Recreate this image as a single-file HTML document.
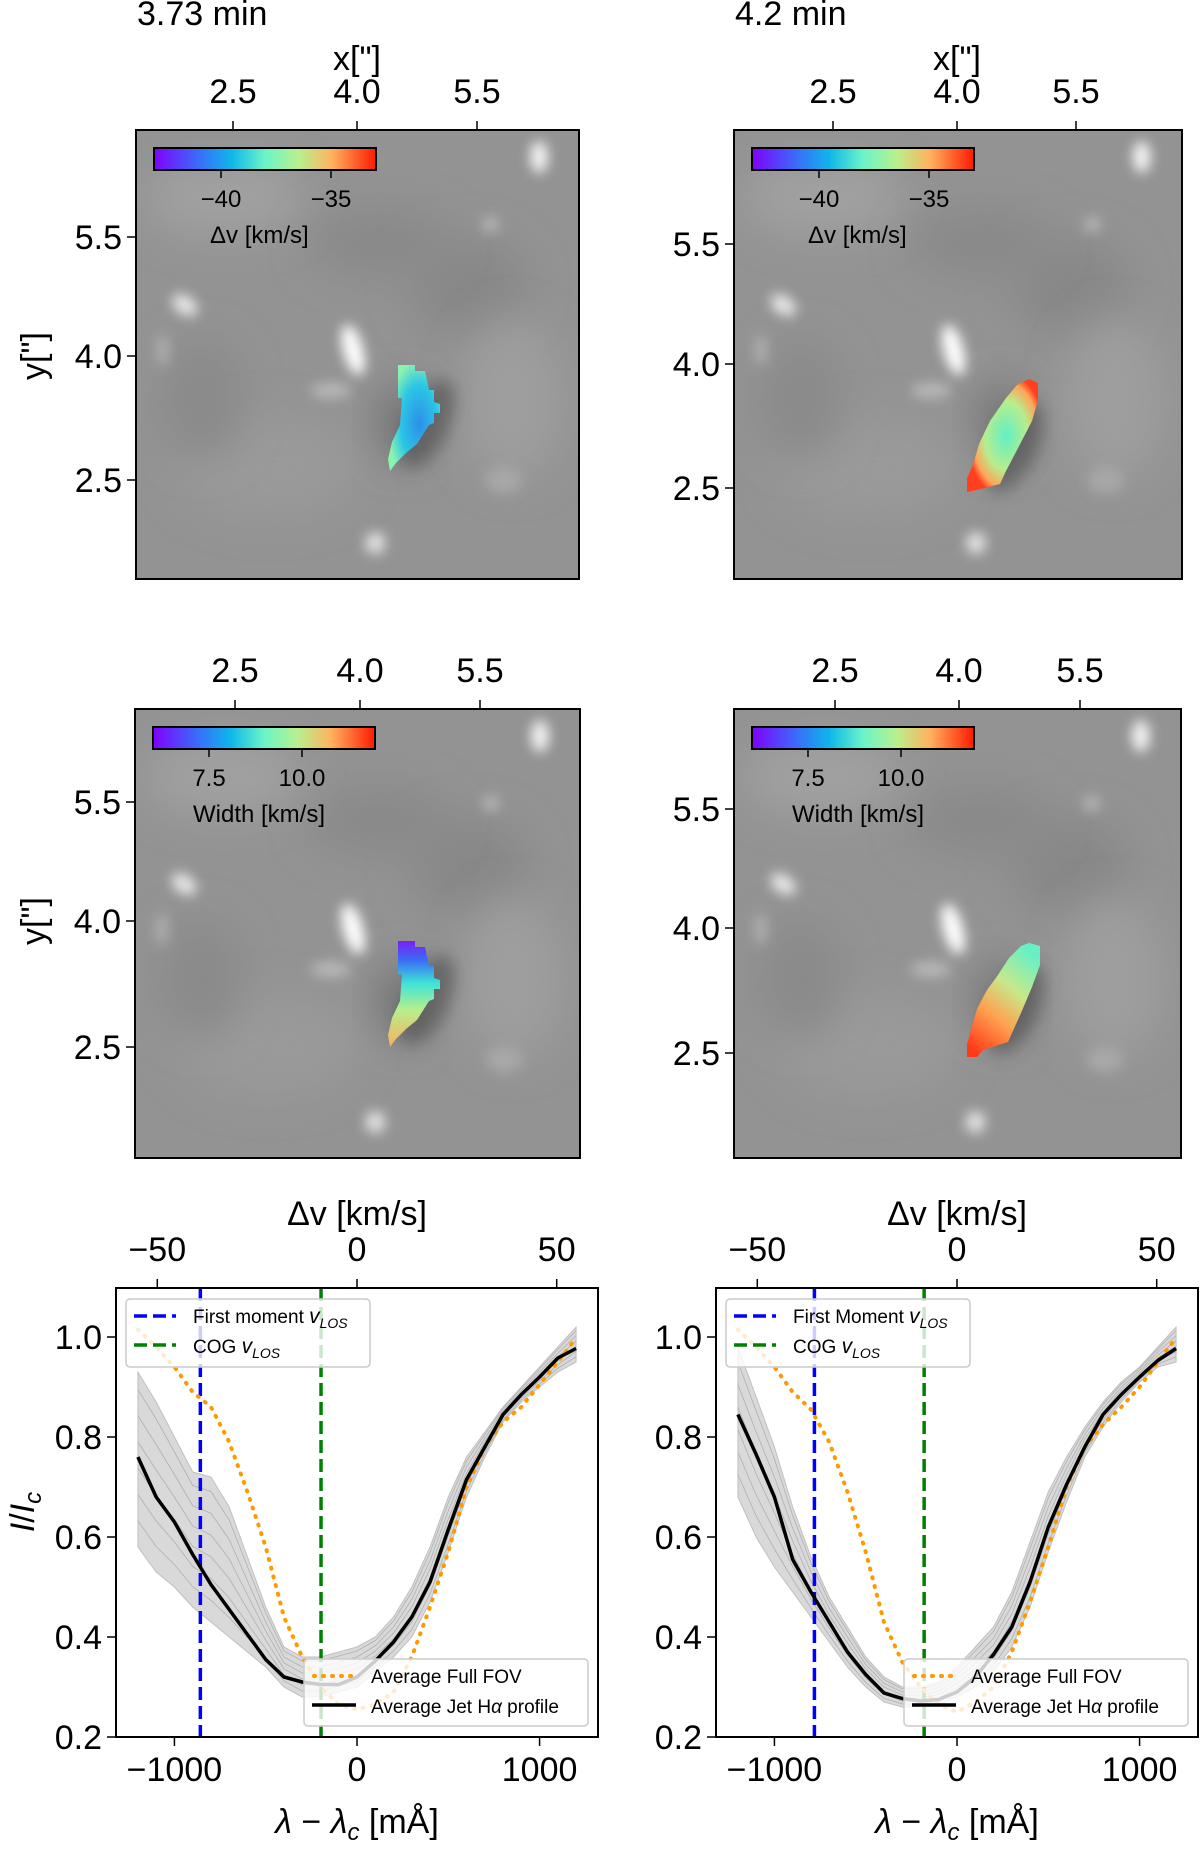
<!DOCTYPE html>
<html><head><meta charset="utf-8">
<style>
html,body{margin:0;padding:0;background:#fff;}
svg{display:block;font-family:"Liberation Sans","DejaVu Sans",sans-serif;}
</style></head>
<body>
<svg id="fig" width="1200" height="1850" viewBox="0 0 1200 1850" xmlns="http://www.w3.org/2000/svg">
<defs>
  <linearGradient id="rainbow" x1="0" x2="1" y1="0" y2="0">
    <stop offset="0" stop-color="#8000ff"/>
    <stop offset="0.2" stop-color="#3a6cf9"/>
    <stop offset="0.35" stop-color="#0fb7ea"/>
    <stop offset="0.5" stop-color="#6af5c8"/>
    <stop offset="0.65" stop-color="#b8f08e"/>
    <stop offset="0.8" stop-color="#ffb35f"/>
    <stop offset="1" stop-color="#ff1a00"/>
  </linearGradient>
  <radialGradient id="jet1" cx="0.6" cy="0.55" r="0.6">
    <stop offset="0" stop-color="#2c8fe8"/>
    <stop offset="0.6" stop-color="#2bc6e6"/>
    <stop offset="1" stop-color="#8cf2b0"/>
  </radialGradient>
  <linearGradient id="jet2" x1="0" x2="0" y1="0" y2="1">
    <stop offset="0" stop-color="#7a1ff5"/>
    <stop offset="0.18" stop-color="#3a6cf5"/>
    <stop offset="0.4" stop-color="#3ee4d8"/>
    <stop offset="0.65" stop-color="#b8ee8c"/>
    <stop offset="1" stop-color="#f8b060"/>
  </linearGradient>
  <radialGradient id="jet3" cx="0.55" cy="0.5" r="0.55">
    <stop offset="0" stop-color="#62efc4"/>
    <stop offset="0.55" stop-color="#b6ee8e"/>
    <stop offset="0.85" stop-color="#ffa458"/>
    <stop offset="1" stop-color="#ff4020"/>
  </radialGradient>
  <linearGradient id="jet4" x1="0.7" x2="0.2" y1="0" y2="1">
    <stop offset="0" stop-color="#68f0c4"/>
    <stop offset="0.35" stop-color="#c8e88a"/>
    <stop offset="0.65" stop-color="#ffa050"/>
    <stop offset="1" stop-color="#ff3a18"/>
  </linearGradient>
  <filter id="blur8" x="-50%" y="-50%" width="200%" height="200%"><feGaussianBlur stdDeviation="8"/></filter>
  <filter id="blur4" x="-80%" y="-80%" width="260%" height="260%"><feGaussianBlur stdDeviation="6"/></filter>
  <filter id="blur20" x="-50%" y="-50%" width="200%" height="200%"><feGaussianBlur stdDeviation="20"/></filter>
</defs>
<g id="maps"></g>
<g id="charts"></g>
</svg>
<script>
// ---------- Spectral profile data (λ grid in mÅ) ----------
const lambdaGrid = [-1200,-1100,-1000,-900,-800,-700,-600,-500,-400,-300,-200,-100,0,100,200,300,400,500,600,700,800,900,1000,1100,1200];
const jetAvgLeft = [0.76,0.68,0.63,0.565,0.505,0.455,0.405,0.355,0.32,0.31,0.305,0.305,0.32,0.352,0.39,0.44,0.51,0.615,0.715,0.78,0.845,0.885,0.92,0.958,0.977];
const jetAvgRight = [0.845,0.765,0.68,0.555,0.49,0.43,0.37,0.325,0.288,0.277,0.272,0.275,0.29,0.32,0.365,0.42,0.51,0.62,0.705,0.78,0.845,0.885,0.92,0.953,0.977];
const fullFovLeft = [1.015,0.98,0.94,0.89,0.86,0.79,0.69,0.58,0.44,0.36,0.30,0.265,0.255,0.265,0.29,0.36,0.46,0.57,0.70,0.78,0.83,0.86,0.905,0.95,0.998];
const fullFovRight = [1.015,0.98,0.94,0.89,0.855,0.79,0.69,0.57,0.43,0.35,0.30,0.265,0.25,0.27,0.30,0.37,0.47,0.58,0.70,0.78,0.825,0.86,0.90,0.95,0.998];
const pixelLoLeft = [0.58,0.53,0.50,0.46,0.43,0.40,0.37,0.34,0.30,0.28,0.28,0.29,0.30,0.33,0.36,0.40,0.47,0.57,0.68,0.76,0.83,0.87,0.90,0.93,0.95];
const pixelHiLeft = [0.93,0.87,0.80,0.73,0.72,0.66,0.56,0.46,0.38,0.36,0.36,0.37,0.38,0.40,0.44,0.50,0.58,0.68,0.76,0.81,0.86,0.90,0.94,0.98,1.02];
const pixelLoRight = [0.68,0.60,0.54,0.49,0.44,0.39,0.34,0.30,0.27,0.26,0.26,0.265,0.28,0.30,0.33,0.38,0.46,0.57,0.67,0.76,0.82,0.87,0.91,0.94,0.95];
const pixelHiRight = [0.98,0.88,0.78,0.66,0.56,0.48,0.42,0.36,0.32,0.30,0.30,0.31,0.34,0.38,0.42,0.49,0.59,0.69,0.76,0.82,0.87,0.91,0.94,0.98,1.02];
const firstMomentLambda = [-858, -781];
const cogLambda = [-197, -180];
const yTicks = [0.2,0.4,0.6,0.8,1.0];
const yTickLabels = ["0.2","0.4","0.6","0.8","1.0"];
const xTicks = [-1000,0,1000];
const xTickLabels = ["\u22121000","0","1000"];
const vTicks = [-50,0,50];
const vTickLabels = ["\u221250","0","50"];

const NS = "http://www.w3.org/2000/svg";
function mk(tag, attrs, parent){
  const e = document.createElementNS(NS, tag);
  for (const k in attrs) e.setAttribute(k, attrs[k]);
  if (parent) parent.appendChild(e);
  return e;
}
function txt(parent, x, y, s, size, anchor, extra){
  const t = mk('text', Object.assign({x:x, y:y, 'font-size':size, 'text-anchor':anchor||'start', fill:'#000'}, extra||{}), parent);
  t.textContent = s;
  return t;
}
const FS = 34;

// ---------- Maps ----------
const maps = document.getElementById('maps');
const panels = [
  {x:136,y:130,w:443,h:449, tx:[233,357,477], ty:[237,356,480], tickLab:103, title:"3.73 min", xlab:true, ylab:true, cb:"dv", jet:"jet1",
   poly:[[398,365],[415,365],[415,371],[425,371],[429,390],[434,390],[434,402],[440,404],[440,413],[434,413],[434,423],[429,425],[417,444],[406,453],[396,463],[390,471],[388,459],[392,442],[400,425],[402,398],[398,398]]},
  {x:734,y:130,w:448,h:449, tx:[833,957,1076], ty:[244,364,488], tickLab:103, title:"4.2 min", xlab:true, ylab:false, cb:"dv", jet:"jet3",
   poly:[[1029,379],[1038,383],[1038,400],[1032,421],[1017,450],[1006,471],[1000,484],[977,490],[967,492],[967,478],[973,465],[979,444],[990,421],[1006,398],[1017,385]]},
  {x:135,y:709,w:445,h:449, tx:[235,360,480], ty:[802,921,1047], tickLab:682, title:null, xlab:false, ylab:true, cb:"w", jet:"jet2",
   poly:[[398,941],[415,941],[415,947],[425,947],[429,966],[434,966],[434,978],[440,980],[440,989],[434,989],[434,999],[429,1001],[417,1020],[406,1029],[396,1039],[390,1047],[388,1035],[392,1018],[400,1001],[402,974],[398,974]]},
  {x:734,y:709,w:447,h:449, tx:[835,959,1080], ty:[809,928,1053], tickLab:682, title:null, xlab:false, ylab:false, cb:"w", jet:"jet4",
   poly:[[1029,943],[1040,946],[1040,965],[1032,987],[1021,1013],[1008,1042],[983,1050],[977,1057],[967,1057],[967,1044],[977,1009],[987,990],[998,975],[1009,958],[1021,946]]}
];
const blobs = [
  [0.49,0.49,10,26,'#ffffff',-15],[0.11,0.39,14,9,'#e8e8e8',35],[0.91,0.06,9,16,'#f4f4f4',0],
  [0.54,0.92,10,11,'#e2e2e2',0],[0.44,0.58,20,8,'#b8b8b8',0],[0.06,0.49,6,16,'#b0b0b0',0],
  [0.80,0.21,8,8,'#b8b8b8',0],[0.83,0.78,18,13,'#a8a8a8',0]
];
const shades = [
  [0.2,0.15,80,40,'#a0a0a0'],[0.75,0.35,60,50,'#888888'],[0.3,0.75,90,50,'#9a9a9a'],
  [0.85,0.6,50,80,'#9e9e9e'],[0.15,0.6,40,60,'#8a8a8a'],[0.55,0.25,70,35,'#898989'],[0.6,0.65,25,40,'#757575']
];
panels.forEach((p, i) => {
  const g = mk('g', {}, maps);
  
  
  const cid = 'clip' + i;
  const cp = mk('clipPath', {id:cid}, g);
  mk('rect', {x:p.x, y:p.y, width:p.w, height:p.h}, cp);
  const img = mk('g', {'clip-path':'url(#'+cid+')'}, g);
  
  
  mk('rect', {x:p.x, y:p.y, width:p.w, height:p.h, fill:'#939393'}, img);
  shades.forEach(s => mk('ellipse', {cx:p.x+s[0]*p.w, cy:p.y+s[1]*p.h, rx:s[2], ry:s[3], fill:s[4], filter:'url(#blur20)'}, img));
  blobs.forEach(b => mk('ellipse', {cx:p.x+b[0]*p.w, cy:p.y+b[1]*p.h, rx:b[2], ry:b[3], fill:b[4], filter:'url(#blur4)', transform:'rotate('+b[5]+' '+(p.x+b[0]*p.w)+' '+(p.y+b[1]*p.h)+')'}, img));
  const pc = p.poly.reduce((a,q)=>[a[0]+q[0]/p.poly.length, a[1]+q[1]/p.poly.length],[0,0]);
  mk('ellipse', {cx:pc[0]+12, cy:pc[1]+10, rx:22, ry:48, fill:'#4a4a4a', opacity:0.55, filter:'url(#blur8)', transform:'rotate(25 '+(pc[0]+12)+' '+(pc[1]+10)+')'}, img);
  const jp = mk('polygon', {points:p.poly.map(q=>q.join(',')).join(' '), fill:'url(#'+p.jet+')'}, img);
  
  
  mk('rect', {x:p.x, y:p.y, width:p.w, height:p.h, fill:'none', stroke:'#000', 'stroke-width':2}, g);
  const xl = ["2.5","4.0","5.5"], yl = ["5.5","4.0","2.5"];
  p.tx.forEach((x, k) => {
    mk('line', {x1:x, x2:x, y1:p.y, y2:p.y-9, stroke:'#000', 'stroke-width':1.5}, g);
    const t = txt(g, x, p.tickLab, xl[k], FS, 'middle');
    
    
  });
  p.ty.forEach((y, k) => {
    mk('line', {x1:p.x, x2:p.x-9, y1:y, y2:y, stroke:'#000', 'stroke-width':1.5}, g);
    const t = txt(g, p.x-14, y+12, yl[k], FS, 'end');
    
    
  });
  if (p.title){
    const t = txt(g, p.x+1, 25, p.title, FS, 'start');
    
    
  }
  if (p.xlab){
    const t = txt(g, p.tx[1], 70, 'x["]', FS, 'middle');
    
    
  }
  if (p.ylab){
    const cy = p.ty[1];
    const t = txt(g, 45, cy, 'y["]', FS, 'middle', {transform:'rotate(-90 45 '+cy+')'});
    
    
  }
  const cbx = p.x+18, cby = p.y+18;
  const cb = mk('g', {}, g);
  
  
  mk('rect', {x:cbx, y:cby, width:222, height:22, fill:'url(#rainbow)', stroke:'#000', 'stroke-width':2}, cb);
  const cbTicks = p.cb === 'dv' ? [[67,'\u221240'],[177,'\u221235']] : [[56,'7.5'],[149,'10.0']];
  cbTicks.forEach(ct => {
    mk('line', {x1:cbx+ct[0], x2:cbx+ct[0], y1:cby+22, y2:cby+30, stroke:'#000', 'stroke-width':1.5}, cb);
    txt(cb, cbx+ct[0], cby+59, ct[1], 24, 'middle');
  });
  txt(cb, p.cb==='dv' ? cbx+56 : cbx+40, cby+95, p.cb==='dv' ? '\u0394v [km/s]' : 'Width [km/s]', 24, 'start');
});

// ---------- Profile charts ----------
const charts = document.getElementById('charts');
const chartCfg = [
  {L:116, R:598, black:jetAvgLeft, orange:fullFovLeft, lo:pixelLoLeft, hi:pixelHiLeft, idx:0, legend1:'First moment ', ylab:true},
  {L:716, R:1198, black:jetAvgRight, orange:fullFovRight, lo:pixelLoRight, hi:pixelHiRight, idx:1, legend1:'First Moment ', ylab:false}
];
const T = 1288, B = 1737, LMIN = -1320, LMAX = 1320, YMIN = 0.2, YMAX = 1.098;
chartCfg.forEach(c => {
  const g = mk('g', {}, charts);
  
  
  const sx = v => c.L + (v - LMIN) / (LMAX - LMIN) * (c.R - c.L);
  const sy = v => B - (v - YMIN) / (YMAX - YMIN) * (B - T);
  const sv = v => sx(v / 45.71 * 1000);
  const cid = 'cclip' + c.idx;
  const cp = mk('clipPath', {id:cid}, g);
  mk('rect', {x:c.L, y:T, width:c.R-c.L, height:B-T}, cp);
  const plot = mk('g', {'clip-path':'url(#'+cid+')'}, g);
  let pts = lambdaGrid.map((l,k)=>sx(l)+','+sy(c.hi[k]));
  for (let k = lambdaGrid.length-1; k >= 0; k--) pts.push(sx(lambdaGrid[k])+','+sy(c.lo[k]));
  const band = mk('polygon', {points:pts.join(' '), fill:'#d2d2d2', 'fill-opacity':0.85, stroke:'#c0c0c0', 'stroke-width':1}, plot);
  
  
  [0.15,0.3,0.45,0.6,0.75,0.9].forEach(f => {
    const pl = mk('polyline', {points:lambdaGrid.map((l,k)=>sx(l)+','+sy(c.lo[k]+f*(c.hi[k]-c.lo[k]))).join(' '), fill:'none', stroke:'#b0b0b0', 'stroke-width':0.8}, plot);
    
    
  });
  const bl = mk('line', {x1:sx(firstMomentLambda[c.idx]), x2:sx(firstMomentLambda[c.idx]), y1:T, y2:B, stroke:'#0000ff', 'stroke-width':3.5, 'stroke-dasharray':'13 6'}, plot);
  
  
  const gl = mk('line', {x1:sx(cogLambda[c.idx]), x2:sx(cogLambda[c.idx]), y1:T, y2:B, stroke:'#008000', 'stroke-width':3.5, 'stroke-dasharray':'13 6'}, plot);
  
  
  const ol = mk('polyline', {points:lambdaGrid.map((l,k)=>sx(l)+','+sy(c.orange[k])).join(' '), fill:'none', stroke:'#ff9900', 'stroke-width':4, 'stroke-dasharray':'1 8', 'stroke-linecap':'round'}, plot);
  
  
  const kl = mk('polyline', {points:lambdaGrid.map((l,k)=>sx(l)+','+sy(c.black[k])).join(' '), fill:'none', stroke:'#000', 'stroke-width':3.5, 'stroke-linejoin':'round'}, plot);
  
  
  mk('rect', {x:c.L, y:T, width:c.R-c.L, height:B-T, fill:'none', stroke:'#000', 'stroke-width':2}, g);
  xTicks.forEach((v,k) => {
    mk('line', {x1:sx(v), x2:sx(v), y1:B, y2:B+9, stroke:'#000', 'stroke-width':1.5}, g);
    const t = txt(g, sx(v), 1781, xTickLabels[k], FS, 'middle');
    
    
  });
  vTicks.forEach((v,k) => {
    mk('line', {x1:sv(v), x2:sv(v), y1:T, y2:T-9, stroke:'#000', 'stroke-width':1.5}, g);
    const t = txt(g, sv(v), 1261, vTickLabels[k], FS, 'middle');
    
    
  });
  yTicks.forEach((v,k) => {
    mk('line', {x1:c.L, x2:c.L-9, y1:sy(v), y2:sy(v), stroke:'#000', 'stroke-width':1.5}, g);
    const t = txt(g, c.L-14, sy(v)+12, yTickLabels[k], FS, 'end');
    
    
  });
  const tt = txt(g, sx(0), 1225, '\u0394v [km/s]', FS, 'middle');
  
  
  const xt = mk('text', {x:sx(0), y:1833, 'font-size':FS, 'text-anchor':'middle'}, g);
  
  
  xt.innerHTML = '<tspan font-style="italic">\u03bb</tspan> \u2212 <tspan font-style="italic">\u03bb</tspan><tspan font-style="italic" font-size="24" dy="7">c</tspan><tspan dy="-7"> [m\u00c5]</tspan>';
  if (c.ylab){
    const yt = mk('text', {x:0, y:0, 'font-size':FS, 'text-anchor':'middle', transform:'translate(34 1512) rotate(-90)'}, g);
    
    
    yt.innerHTML = '<tspan font-style="italic">I</tspan>/<tspan font-style="italic">I</tspan><tspan font-style="italic" font-size="24" dy="7">c</tspan>';
  }
  const lg1 = mk('g', {}, g);
  
  
  const ox = c.L + 10;
  mk('rect', {x:ox, y:1299, width:244, height:68, rx:4, fill:'#fff', 'fill-opacity':0.8, stroke:'#cccccc', 'stroke-width':1.5}, lg1);
  mk('line', {x1:ox+8, x2:ox+50, y1:1316, y2:1316, stroke:'#0000ff', 'stroke-width':3.5, 'stroke-dasharray':'13 6'}, lg1);
  mk('line', {x1:ox+8, x2:ox+50, y1:1345, y2:1345, stroke:'#008000', 'stroke-width':3.5, 'stroke-dasharray':'13 6'}, lg1);
  const l1 = mk('text', {x:ox+67, y:1323, 'font-size':19}, lg1);
  l1.innerHTML = c.legend1 + '<tspan font-style="italic" font-size="21">v</tspan><tspan font-style="italic" font-size="14" dy="5">LOS</tspan>';
  const l2 = mk('text', {x:ox+67, y:1353, 'font-size':19}, lg1);
  l2.innerHTML = 'COG <tspan font-style="italic" font-size="21">v</tspan><tspan font-style="italic" font-size="14" dy="5">LOS</tspan>';
  const lg2 = mk('g', {}, g);
  
  
  const bx = c.R - 294;
  mk('rect', {x:bx, y:1659, width:284, height:67, rx:4, fill:'#fff', 'fill-opacity':0.8, stroke:'#cccccc', 'stroke-width':1.5}, lg2);
  mk('line', {x1:bx+10, x2:bx+52, y1:1676, y2:1676, stroke:'#ff9900', 'stroke-width':4, 'stroke-dasharray':'1 8', 'stroke-linecap':'round'}, lg2);
  mk('line', {x1:bx+8, x2:bx+52, y1:1705, y2:1705, stroke:'#000', 'stroke-width':3.5}, lg2);
  txt(lg2, bx+67, 1683, 'Average Full FOV', 19, 'start');
  const l4 = mk('text', {x:bx+67, y:1713, 'font-size':19}, lg2);
  l4.innerHTML = 'Average Jet H<tspan font-style="italic">\u03b1</tspan> profile';
});
</script>
</body></html>
